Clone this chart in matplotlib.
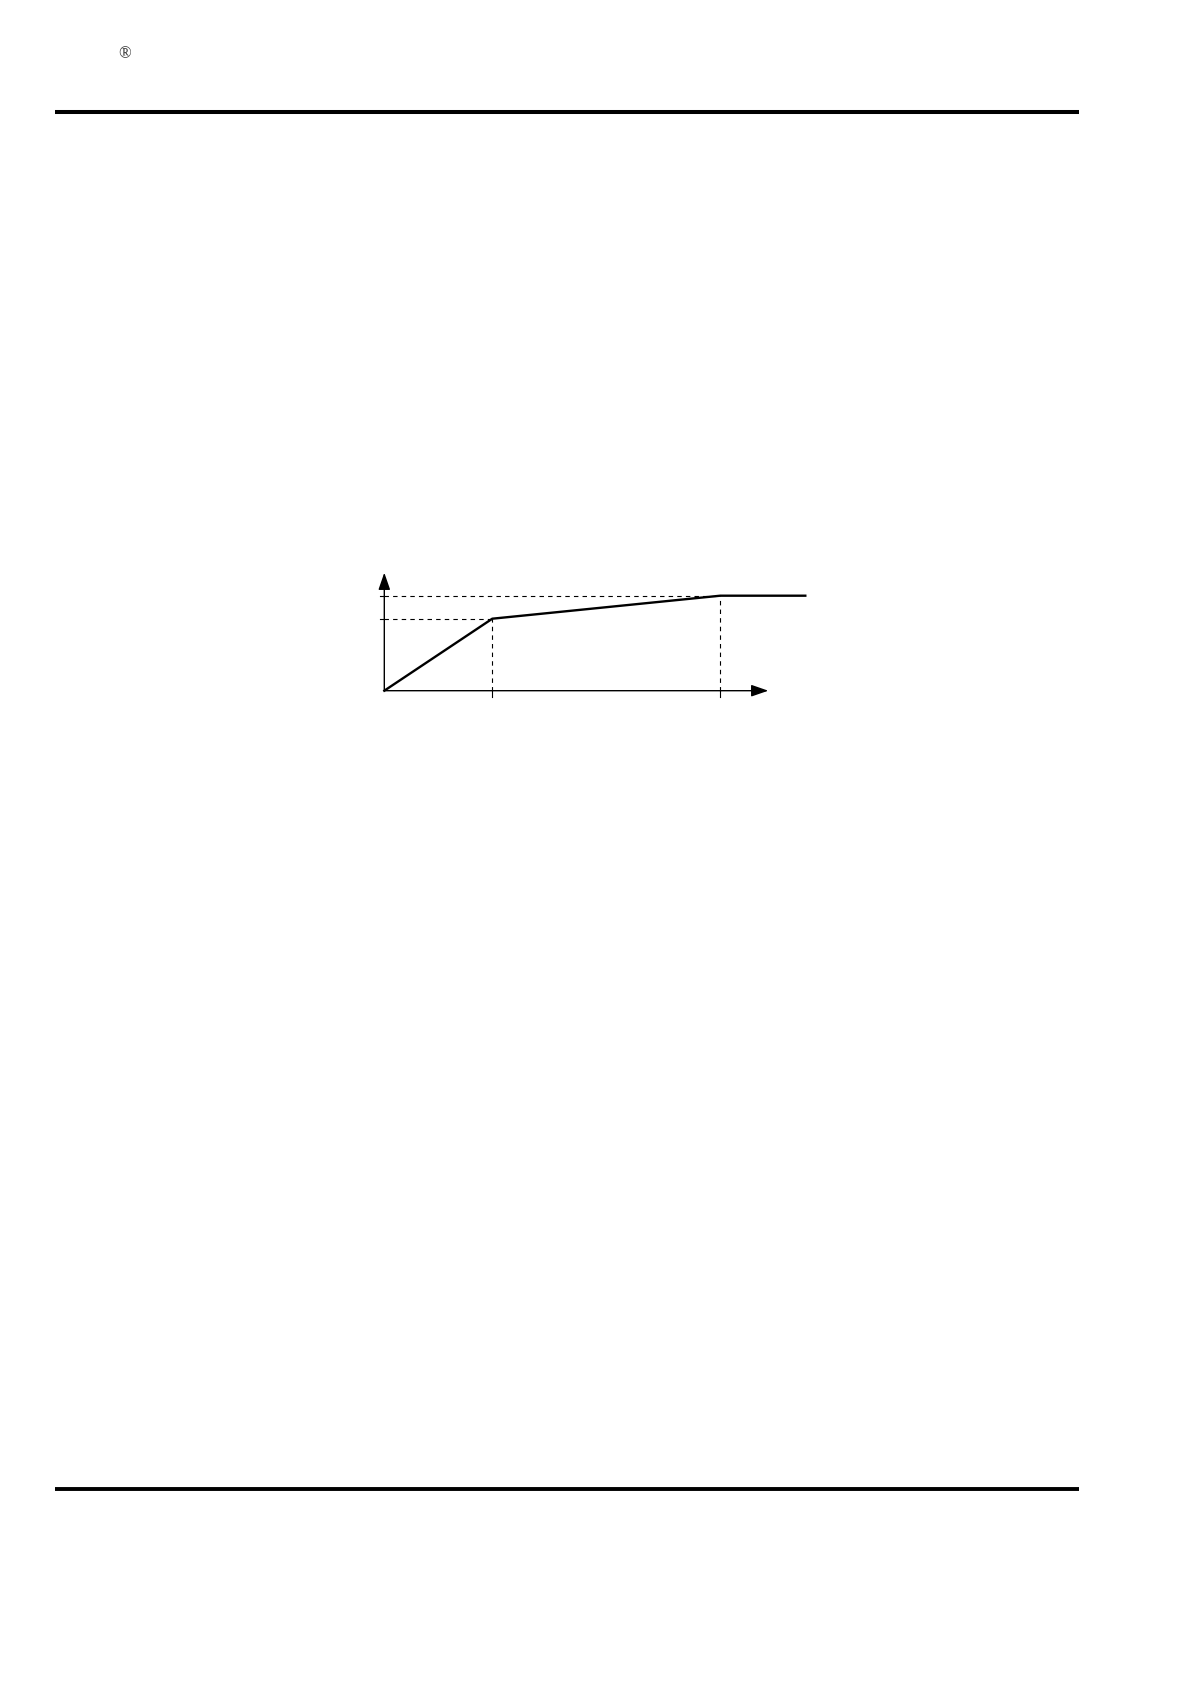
import matplotlib
matplotlib.use('Agg')
import matplotlib.pyplot as plt
from matplotlib.lines import Line2D

# piecewise curve (units = px on the page, origin at the axes corner)
curve_x = [0, 108, 336, 421]
curve_y = [0, 72, 95, 95]
knee_x = [108, 336]
knee_y = [72, 95]
x_axis_len = 384
y_axis_len = 118

W, H = 1190, 1682
plt.rcParams['lines.scale_dashes'] = False

fig = plt.figure(figsize=(W / 100, H / 100), dpi=100)
fig.patch.set_facecolor('white')

# page furniture: header / footer rules and the registered sign
fig.add_artist(Line2D([55 / W, 1079 / W], [1 - 112 / H, 1 - 112 / H],
                      color='black', lw=2.9, solid_capstyle='butt'))
fig.add_artist(Line2D([55 / W, 1079 / W], [1 - 1489.2 / H, 1 - 1489.2 / H],
                      color='black', lw=2.8, solid_capstyle='butt'))
fig.text(124.3 / W, 1 - 54.3 / H, '\u00ae', fontsize=12, family='Liberation Serif',
         color='#333333', ha='center', va='center')

# chart
ox, oy = 384.3, 690.7
pad = 20
ax = fig.add_axes([(ox - pad) / W, (H - oy - pad) / H, 460 / W, 150 / H])
ax.set_xlim(-pad, 460 - pad)
ax.set_ylim(-pad, 150 - pad)
ax.axis('off')

# axes with arrows
arr = dict(arrowstyle='-|>,head_length=0.52,head_width=0.18', color='black',
           lw=1.0, mutation_scale=20, shrinkA=0, shrinkB=0)
ax.annotate('', xy=(x_axis_len, 0), xytext=(0, 0), arrowprops=arr)
ax.annotate('', xy=(0, y_axis_len), xytext=(0, 0), arrowprops=arr)

# guide lines
for kx, ky in zip(knee_x, knee_y):
    ax.plot([0, kx], [ky, ky], color='black', lw=0.8, dashes=(3.2, 3))
    ax.plot([kx, kx], [0, ky], color='black', lw=0.8, dashes=(3.2, 3))
    ax.plot([-4, 0], [ky, ky], color='black', lw=0.8)
    ax.plot([kx, kx], [-6, 0], color='black', lw=0.8)

ax.plot(curve_x, curve_y, color='black', lw=1.7, solid_joinstyle='miter')

fig.savefig('out.png', dpi=100, facecolor='white')
